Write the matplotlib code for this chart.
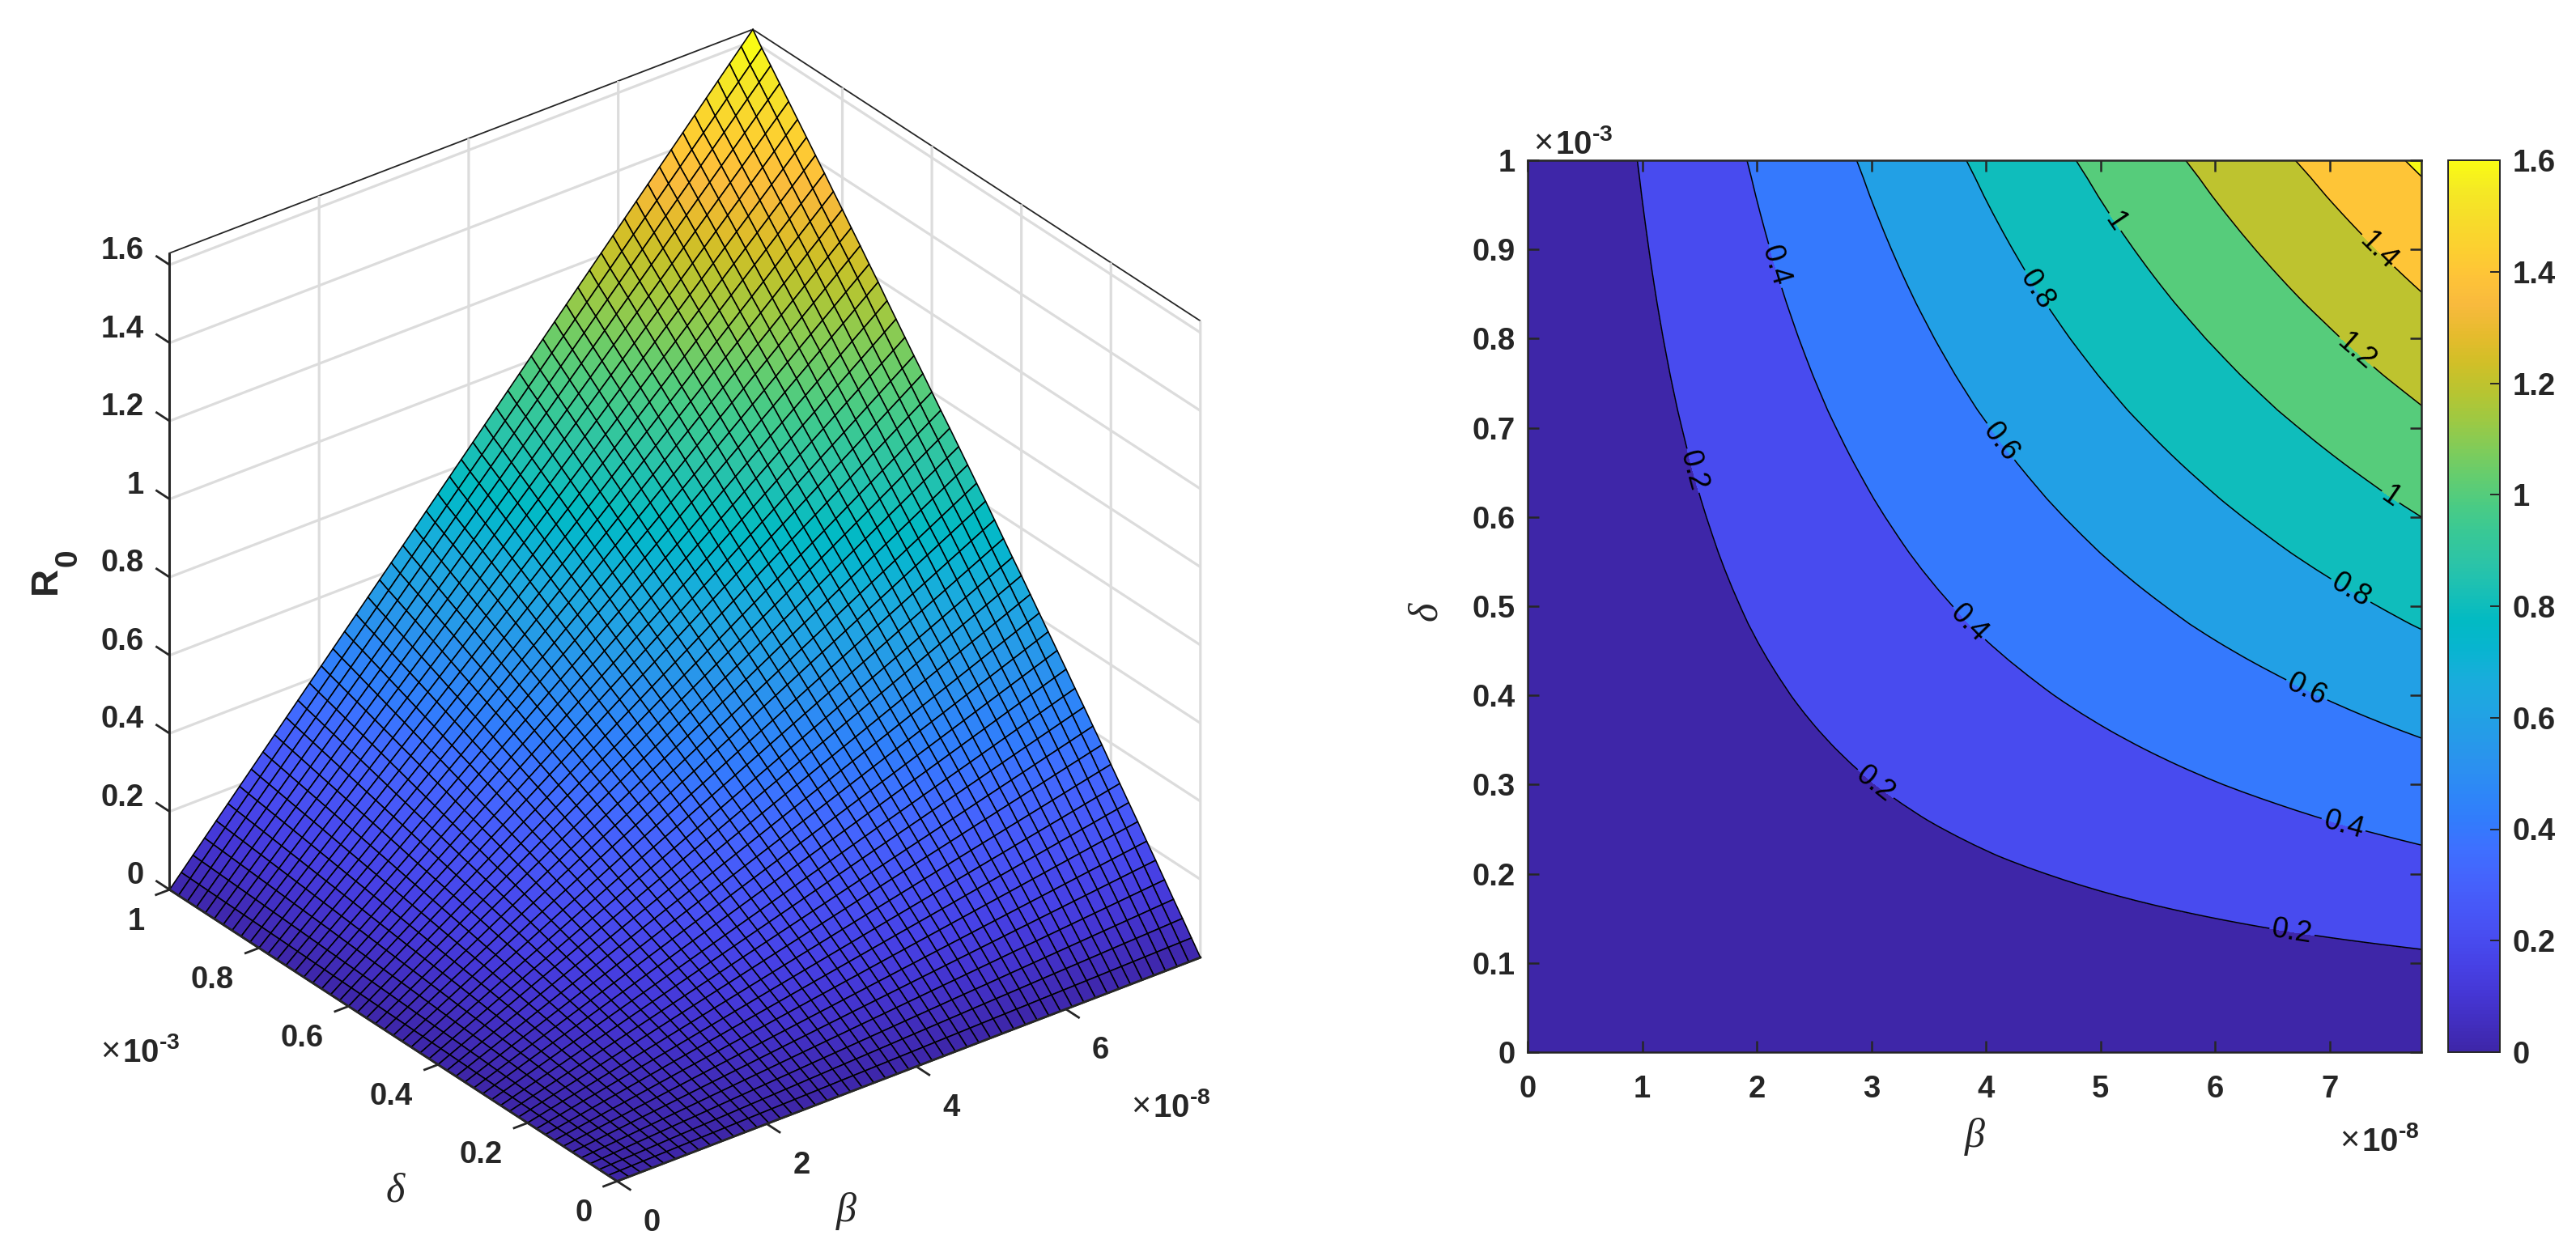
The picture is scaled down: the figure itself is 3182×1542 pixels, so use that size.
import numpy as np
import matplotlib
matplotlib.use("Agg")
import matplotlib.pyplot as plt
from matplotlib.cm import ScalarMappable
from matplotlib.colors import LinearSegmentedColormap, Normalize
from mpl_toolkits.mplot3d import proj3d

FIG_W, FIG_H = 3182, 1542
INK = "#262626"

# R0 along the beta = 7.8e-8 edge, read at every mesh line of delta (0 .. 1e-3)
r0_at_beta_max = [
    0.000, 0.035, 0.070, 0.104, 0.139, 0.174, 0.208, 0.243, 0.277, 0.311,
    0.345, 0.380, 0.413, 0.447, 0.480, 0.514, 0.547, 0.580, 0.613, 0.646,
    0.679, 0.711, 0.744, 0.777, 0.810, 0.841, 0.873, 0.905, 0.937, 0.968,
    1.000, 1.032, 1.063, 1.095, 1.127, 1.159, 1.192, 1.223, 1.255, 1.286,
    1.318, 1.349, 1.381, 1.412, 1.443, 1.474, 1.505, 1.536, 1.567, 1.597,
    1.630,
]
beta_max = 7.8
delta_max = 1.0
z_max = 1.63

surf_beta_ticks = [0, 2, 4, 6]
surf_delta_ticks = [0, 0.2, 0.4, 0.6, 0.8, 1]
z_ticks = [0, 0.2, 0.4, 0.6, 0.8, 1, 1.2, 1.4, 1.6]

map_beta_ticks = [0, 1, 2, 3, 4, 5, 6, 7]
map_delta_ticks = [0, 0.1, 0.2, 0.3, 0.4, 0.5, 0.6, 0.7, 0.8, 0.9, 1]
contour_levels = [0, 0.2, 0.4, 0.6, 0.8, 1, 1.2, 1.4, 1.6]
contour_label_spots = [
    (1.39, 0.65), (3.02, 0.298), (6.67, 0.134),
    (2.23, 0.884), (3.82, 0.477), (7.11, 0.25),
    (4.04, 0.676), (6.78, 0.401),
    (4.58, 0.866), (7.15, 0.51),
    (5.07, 0.926), (7.47, 0.611),
    (7.15, 0.773), (7.38, 0.893),
]
bar_ticks = [0, 0.2, 0.4, 0.6, 0.8, 1, 1.2, 1.4, 1.6]

parula_stops = [
    (0.2422, 0.1504, 0.6603), (0.2578, 0.1818, 0.7511), (0.2706, 0.2147, 0.8364),
    (0.2783, 0.2559, 0.8991), (0.2813, 0.3006, 0.9414), (0.2795, 0.3447, 0.9717),
    (0.2699, 0.3892, 0.9906), (0.2440, 0.4358, 0.9988), (0.1963, 0.4847, 0.9892),
    (0.1786, 0.5289, 0.9682), (0.1687, 0.5703, 0.9359), (0.1460, 0.6091, 0.9079),
    (0.1248, 0.6459, 0.8883), (0.0952, 0.6798, 0.8598), (0.0297, 0.7082, 0.8163),
    (0.0067, 0.7312, 0.7660), (0.0964, 0.7500, 0.7120), (0.1717, 0.7670, 0.6554),
    (0.2161, 0.7843, 0.5923), (0.2906, 0.7973, 0.5188), (0.3909, 0.8029, 0.4354),
    (0.5044, 0.7993, 0.3480), (0.6174, 0.7876, 0.2612), (0.7242, 0.7698, 0.1910),
    (0.8203, 0.7498, 0.1535), (0.9035, 0.7330, 0.1774), (0.9728, 0.7298, 0.2394),
    (0.9970, 0.7659, 0.2199), (0.9892, 0.8136, 0.1885), (0.9676, 0.8639, 0.1643),
    (0.9597, 0.9135, 0.1423), (0.9769, 0.9839, 0.0805),
]

plt.rcParams["font.family"] = ["Liberation Sans", "DejaVu Sans"]
plt.rcParams["font.weight"] = "bold"
plt.rcParams["text.color"] = INK
plt.rcParams["mathtext.fontset"] = "custom"
plt.rcParams["mathtext.rm"] = "Liberation Sans:bold"
plt.rcParams["mathtext.bf"] = "Liberation Sans:bold"
plt.rcParams["mathtext.it"] = "Liberation Sans:italic"

GREEK = dict(family="Liberation Serif", style="italic", weight="normal", ha="center", va="center")


def px_box(left, top, right, bottom):
    return [left / FIG_W, 1 - bottom / FIG_H, (right - left) / FIG_W, (bottom - top) / FIG_H]


def put_text(fig, x, y, text, **kwargs):
    fig.text(x / FIG_W, 1 - y / FIG_H, text, **kwargs)


def put_multiplier(fig, x, y, exponent):
    # thin regular cross, then the bold power of ten
    put_text(fig, x, y, "×", fontsize=30, weight="normal", ha="left", va="baseline")
    put_text(fig, x + 27, y, rf"$\mathrm{{10}}^{{\text{{{exponent}}}}}$", fontsize=29,
             ha="left", va="baseline")


def style_surface_axis(axis):
    axis.set_pane_color((1, 1, 1, 1))
    axis.pane.set_edgecolor(INK)
    axis.pane.set_linewidth(1.3)
    axis.line.set_color(INK)
    axis.line.set_linewidth(2.0)
    axis._axinfo["grid"].update(color="#dcdcdc", linewidth=2.3)
    axis._axinfo["tick"].update(inward_factor=0.0, outward_factor=0.0)


def label_3d(axes, x, y, z, text, **kwargs):
    # project once so the label is plain 2d text at the right spot
    px, py, _ = proj3d.proj_transform(x, y, z, axes.get_proj())
    axes.text2D(px, py, text, transform=axes.transData, fontsize=27.5, color=INK,
                va="center", **kwargs)


parula = LinearSegmentedColormap.from_list("parula", parula_stops, N=256)
norm = Normalize(0, 1.6)

beta_grid = np.linspace(0, beta_max, len(r0_at_beta_max))
delta_grid = np.linspace(0, delta_max, len(r0_at_beta_max))
B, D = np.meshgrid(beta_grid, delta_grid)
R0 = np.outer(r0_at_beta_max, beta_grid / beta_max)

fig = plt.figure(figsize=(FIG_W / 100, FIG_H / 100), dpi=100, facecolor="white")

# left: surface
ax3 = fig.add_axes(px_box(62, 5, 1589, 1532), projection="3d", proj_type="ortho")
ax3.set_box_aspect((1, 1, 1))
ax3.view_init(elev=30, azim=-127.5)
ax3.patch.set_alpha(0)
ax3.plot_surface(
    B, D, R0, cmap=parula, norm=norm, rstride=1, cstride=1,
    edgecolor="black", linewidth=1.15, shade=False, antialiased=True,
)
ax3.set_xlim(0, beta_max)
ax3.set_ylim(0, delta_max)
ax3.set_zlim(0, z_max)
ax3.set_xticks(surf_beta_ticks, labels=[])
ax3.set_yticks(surf_delta_ticks, labels=[])
ax3.set_zticks(z_ticks, labels=[])
for axis in (ax3.xaxis, ax3.yaxis, ax3.zaxis):
    style_surface_axis(axis)

# tick marks and labels sit on the outer box edges, matlab style
edge_style = dict(color=INK, linewidth=2.0, solid_capstyle="butt", zorder=10)
ax3.plot([0, 0], [delta_max, delta_max], [0, z_max], **edge_style)
ax3.plot([0, beta_max], [0, 0], [0, 0], **edge_style)
ax3.plot([0, 0], [0, delta_max], [0, 0], **edge_style)
for t in surf_beta_ticks:
    ax3.plot([t, t], [0, -0.031], [0, 0], **edge_style)
    label_3d(ax3, t, -0.078, -0.048, f"{t:g}", ha="center")
for t in surf_delta_ticks:
    ax3.plot([0, -0.195], [t, t], [0, 0], **edge_style)
    label_3d(ax3, -0.335, t, -0.058, f"{t:g}", ha="right")
for t in z_ticks:
    ax3.plot([0, 0], [delta_max, delta_max + 0.031], [t, t], **edge_style)
    label_3d(ax3, 0, delta_max + 0.058, t - 0.008, f"{t:g}", ha="right")

put_text(fig, 57, 717, "R", fontsize=34, rotation=90, ha="center", va="center")
put_text(fig, 84, 689, "0", fontsize=28, rotation=90, ha="center", va="center")
put_text(fig, 488, 1472, "δ", fontsize=36, **GREEK)
put_text(fig, 1045, 1497, "β", fontsize=36, **GREEK)
put_multiplier(fig, 124, 1312, "-3")
put_multiplier(fig, 1397, 1380, "-8")

# right: filled contours
ax = fig.add_axes(px_box(1887, 198, 2991, 1300))
fill_levels = contour_levels + [z_max + 0.01]
fill_colors = [parula(norm(level)) for level in contour_levels]
ax.contourf(B, D, R0, levels=fill_levels, colors=fill_colors)
lines = ax.contour(B, D, R0, levels=contour_levels[1:], colors="black", linewidths=1.1)
labels = ax.clabel(lines, fontsize=26, fmt="%g", inline=True, inline_spacing=3,
                   manual=contour_label_spots)
for label in labels:
    label.set_fontweight("normal")
    label.set_color("black")
ax.set_xlim(0, beta_max)
ax.set_ylim(0, delta_max)
ax.set_xticks(map_beta_ticks, labels=[f"{t:g}" for t in map_beta_ticks])
ax.set_yticks(map_delta_ticks, labels=[f"{t:g}" for t in map_delta_ticks])
ax.tick_params(axis="x", direction="in", top=True, length=10, width=1.8, labelsize=27.5,
               colors=INK, pad=20)
ax.tick_params(axis="y", direction="in", right=True, length=10, width=1.8, labelsize=27.5,
               colors=INK, pad=11)
for spine in ax.spines.values():
    spine.set_linewidth(1.8)
    spine.set_color(INK)

put_text(fig, 2439, 1404, "β", fontsize=36, **GREEK)
put_text(fig, 1762, 755, "δ", fontsize=36, rotation=90, **GREEK)
put_multiplier(fig, 1894, 190, "-3")
put_multiplier(fig, 2890, 1422, "-8")

# colorbar
cax = fig.add_axes(px_box(3024, 198, 3088, 1300))
bar = fig.colorbar(ScalarMappable(norm=norm, cmap=parula), cax=cax, ticks=bar_ticks)
bar.set_ticklabels([f"{t:g}" for t in bar_ticks])
bar.outline.set_linewidth(1.4)
bar.outline.set_edgecolor(INK)
cax.tick_params(direction="in", length=9, width=1.4, labelsize=27.5, colors=INK, pad=11)

fig.savefig("out.png", dpi=100, facecolor="white")
